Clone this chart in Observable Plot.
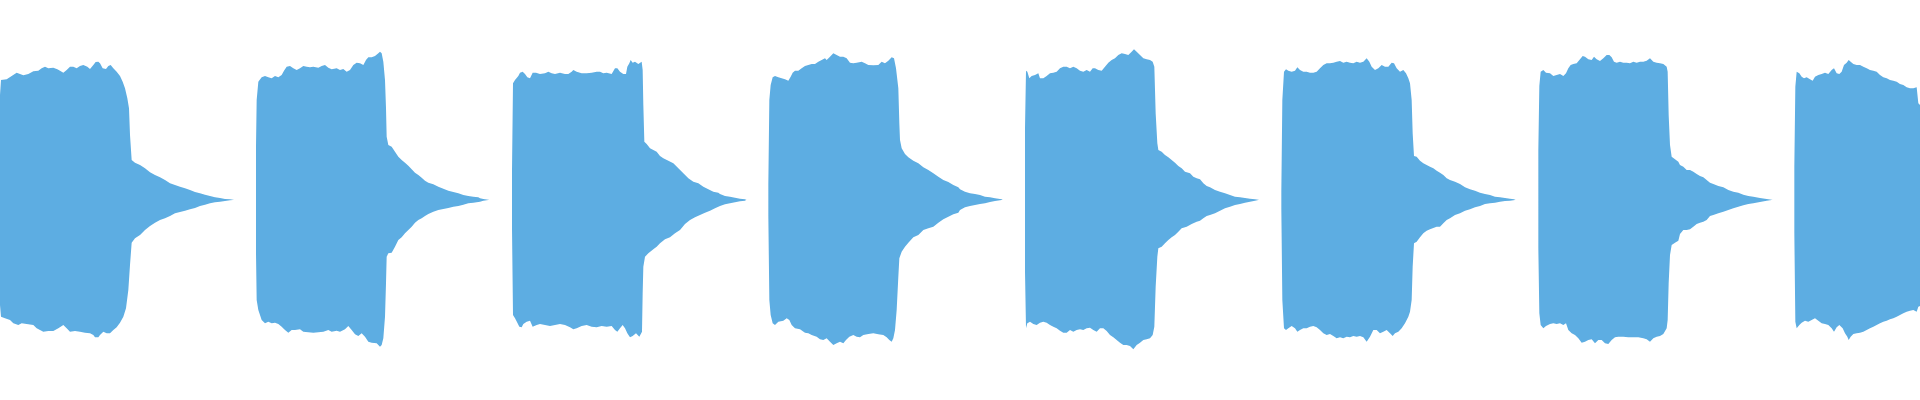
<!DOCTYPE html>
<html><head><meta charset="utf-8">
<script src="https://cdn.jsdelivr.net/npm/d3@7"></script>
<script src="https://cdn.jsdelivr.net/npm/@observablehq/plot@0.6"></script>
<style>html,body{margin:0;padding:0;background:#fff;overflow:hidden;} #chart svg{display:block;}</style>
</head><body><div id="chart"></div>
<script>
// Waveform peak envelope per burst: [time (ms), peak level (1/600 of full scale)]
const burst1Upper = [[0,315],[3,360],[20,362],[35,372],[50,382],[60,378],[70,374],[85,378],[100,386],[115,388],[125,395],[135,400],[145,395],[160,397],[172,392],[180,388],[190,382],[200,390],[210,400],[220,400],[230,395],[240,402],[250,405],[262,400],[270,393],[280,405],[287,414],[295,415],[300,410],[308,395],[318,393],[325,402],[332,405],[340,395],[350,385],[360,372],[368,355],[375,335],[382,305],[387,275],[390,195],[395,120],[405,112],[420,105],[435,95],[450,83],[465,75],[480,68],[495,60],[510,50],[525,45],[540,40],[555,35],[570,30],[585,24],[600,20],[615,16],[630,12],[645,8],[660,6],[675,3],[690,2],[699,1],[702,0]];
const burst1Lower = [[0,-315],[3,-350],[15,-355],[30,-360],[40,-370],[55,-375],[65,-370],[80,-372],[100,-375],[110,-385],[130,-395],[145,-393],[160,-393],[175,-385],[190,-375],[200,-385],[210,-395],[225,-393],[240,-395],[255,-398],[270,-400],[280,-405],[285,-412],[295,-412],[300,-405],[310,-395],[320,-400],[330,-400],[340,-390],[350,-382],[360,-368],[370,-350],[378,-325],[385,-270],[390,-195],[395,-128],[405,-115],[420,-105],[435,-90],[450,-78],[465,-68],[480,-60],[495,-55],[510,-48],[525,-40],[540,-36],[555,-32],[570,-28],[585,-24],[600,-18],[615,-14],[630,-10],[645,-7],[660,-5],[675,-3],[690,-1],[699,0]];
const burst2Upper = [[768,160],[770,300],[775,355],[785,368],[795,372],[805,368],[815,365],[825,372],[835,368],[845,375],[852,388],[860,400],[870,402],[880,395],[890,390],[900,395],[910,402],[920,400],[930,398],[940,400],[955,397],[965,402],[975,405],[985,397],[995,392],[1010,395],[1020,390],[1030,393],[1040,385],[1050,390],[1060,405],[1070,412],[1080,410],[1090,405],[1098,420],[1105,428],[1115,428],[1125,432],[1135,440],[1140,445],[1145,440],[1150,415],[1155,360],[1158,275],[1160,190],[1165,165],[1175,160],[1185,145],[1195,130],[1205,120],[1215,112],[1225,103],[1235,92],[1245,82],[1255,75],[1265,67],[1275,58],[1285,52],[1300,47],[1315,40],[1330,34],[1345,28],[1360,24],[1375,20],[1390,15],[1405,12],[1420,10],[1435,8],[1440,5],[1450,3],[1465,1],[1468,0]];
const burst2Lower = [[768,-160],[770,-300],[775,-330],[785,-360],[795,-370],[805,-365],[815,-370],[825,-368],[835,-372],[845,-380],[855,-390],[865,-398],[875,-390],[885,-390],[900,-388],[910,-395],[925,-397],[940,-398],[955,-397],[970,-395],[985,-390],[995,-395],[1010,-392],[1020,-395],[1035,-388],[1045,-378],[1055,-390],[1065,-403],[1075,-408],[1085,-400],[1095,-410],[1105,-425],[1115,-428],[1130,-430],[1140,-440],[1145,-435],[1150,-415],[1155,-350],[1158,-250],[1160,-170],[1165,-160],[1175,-158],[1185,-140],[1195,-120],[1205,-112],[1215,-100],[1225,-90],[1235,-80],[1245,-68],[1255,-60],[1265,-55],[1275,-48],[1285,-42],[1300,-35],[1315,-30],[1330,-27],[1345,-24],[1360,-20],[1375,-18],[1390,-14],[1405,-10],[1420,-8],[1440,-5],[1450,-2],[1465,0]];
const burst3Upper = [[1536,90],[1539,350],[1545,360],[1555,372],[1560,382],[1568,385],[1575,378],[1582,368],[1590,365],[1598,382],[1608,382],[1620,378],[1635,380],[1645,385],[1655,380],[1665,378],[1680,382],[1695,378],[1705,378],[1715,385],[1720,390],[1730,385],[1745,380],[1760,380],[1775,382],[1790,385],[1800,385],[1810,380],[1820,382],[1835,378],[1845,395],[1852,395],[1860,385],[1870,378],[1878,378],[1882,400],[1888,410],[1892,420],[1898,412],[1905,415],[1915,408],[1925,415],[1928,390],[1930,285],[1933,175],[1940,168],[1950,155],[1960,150],[1970,145],[1980,132],[1990,125],[2005,118],[2020,110],[2035,95],[2050,80],[2065,65],[2080,55],[2095,50],[2110,40],[2125,32],[2140,25],[2155,22],[2160,18],[2175,12],[2190,10],[2205,7],[2220,4],[2235,2],[2238,1],[2240,0]];
const burst3Lower = [[1536,-85],[1539,-345],[1545,-355],[1552,-368],[1558,-380],[1565,-382],[1570,-372],[1580,-365],[1590,-362],[1598,-380],[1610,-375],[1620,-372],[1635,-375],[1650,-378],[1665,-375],[1680,-372],[1695,-375],[1710,-382],[1720,-388],[1730,-385],[1745,-378],[1760,-375],[1775,-380],[1790,-382],[1805,-378],[1820,-380],[1835,-378],[1845,-390],[1852,-395],[1860,-385],[1868,-375],[1875,-385],[1882,-400],[1890,-412],[1898,-408],[1908,-400],[1918,-410],[1926,-395],[1928,-280],[1930,-200],[1935,-170],[1945,-160],[1960,-148],[1970,-140],[1980,-130],[1995,-118],[2010,-112],[2025,-100],[2040,-90],[2055,-72],[2070,-60],[2085,-52],[2100,-45],[2115,-38],[2130,-32],[2145,-25],[2160,-18],[2175,-13],[2190,-10],[2205,-7],[2220,-4],[2235,-2],[2238,0]];
const burst4Upper = [[2305,48],[2308,300],[2312,345],[2318,368],[2325,372],[2335,368],[2345,365],[2355,362],[2365,358],[2372,370],[2378,382],[2385,388],[2395,388],[2405,395],[2415,402],[2425,405],[2435,408],[2445,408],[2455,415],[2465,420],[2475,425],[2480,420],[2490,430],[2500,440],[2510,435],[2520,430],[2530,430],[2540,425],[2550,412],[2560,410],[2570,412],[2585,415],[2595,410],[2605,405],[2620,404],[2635,405],[2645,415],[2655,410],[2665,418],[2675,428],[2682,425],[2688,395],[2695,335],[2698,230],[2700,180],[2705,155],[2715,138],[2725,128],[2740,118],[2755,110],[2770,98],[2785,90],[2800,80],[2815,70],[2830,60],[2845,54],[2860,45],[2875,38],[2880,32],[2895,25],[2910,20],[2925,18],[2940,15],[2955,10],[2970,8],[2985,5],[3000,3],[3005,2],[3008,0]];
const burst4Lower = [[2305,-48],[2308,-300],[2312,-345],[2318,-370],[2325,-375],[2335,-365],[2350,-362],[2360,-355],[2368,-360],[2375,-375],[2385,-385],[2400,-388],[2415,-398],[2425,-400],[2435,-405],[2450,-410],[2460,-418],[2470,-420],[2480,-415],[2490,-425],[2500,-435],[2510,-430],[2520,-425],[2530,-430],[2538,-420],[2548,-410],[2560,-405],[2570,-410],[2580,-412],[2590,-405],[2605,-402],[2620,-400],[2635,-403],[2650,-405],[2660,-412],[2668,-420],[2675,-425],[2680,-415],[2685,-390],[2690,-330],[2695,-230],[2698,-175],[2705,-155],[2715,-140],[2725,-128],[2740,-112],[2755,-105],[2770,-90],[2785,-85],[2800,-80],[2815,-68],[2830,-58],[2845,-50],[2860,-43],[2875,-38],[2880,-30],[2895,-22],[2910,-18],[2925,-15],[2940,-12],[2955,-10],[2970,-6],[2985,-3],[3000,-1],[3005,0]];
const burst5Upper = [[3075,215],[3078,388],[3082,385],[3088,365],[3095,372],[3105,375],[3115,380],[3120,365],[3130,365],[3140,372],[3150,380],[3160,382],[3170,385],[3180,395],[3190,400],[3200,400],[3210,395],[3220,400],[3230,395],[3240,388],[3250,385],[3260,390],[3270,385],[3278,395],[3285,395],[3295,390],[3305,388],[3315,400],[3325,412],[3335,420],[3345,425],[3355,435],[3365,440],[3375,438],[3385,435],[3395,445],[3402,452],[3410,445],[3420,435],[3430,425],[3440,422],[3450,420],[3458,415],[3463,400],[3467,260],[3472,170],[3475,150],[3485,145],[3495,135],[3505,128],[3515,120],[3525,112],[3535,102],[3545,95],[3555,85],[3570,80],[3580,70],[3590,65],[3600,62],[3610,50],[3620,42],[3630,38],[3645,30],[3660,25],[3675,20],[3690,15],[3705,10],[3720,8],[3735,6],[3750,4],[3765,2],[3775,1],[3777,0]];
const burst5Lower = [[3075,-215],[3078,-385],[3082,-370],[3090,-365],[3100,-372],[3110,-375],[3120,-368],[3130,-365],[3140,-368],[3150,-375],[3160,-380],[3170,-385],[3180,-392],[3190,-398],[3200,-398],[3210,-390],[3220,-395],[3230,-390],[3240,-388],[3250,-390],[3260,-385],[3270,-383],[3280,-390],[3290,-395],[3300,-385],[3310,-385],[3320,-393],[3330,-405],[3340,-412],[3350,-420],[3360,-428],[3370,-435],[3380,-435],[3390,-438],[3400,-448],[3410,-435],[3420,-428],[3430,-420],[3440,-418],[3450,-415],[3458,-405],[3463,-380],[3467,-260],[3472,-170],[3475,-145],[3485,-140],[3495,-130],[3505,-120],[3515,-112],[3525,-105],[3535,-95],[3545,-85],[3560,-80],[3575,-72],[3590,-65],[3600,-62],[3610,-55],[3620,-48],[3630,-45],[3645,-40],[3660,-32],[3675,-25],[3690,-20],[3705,-15],[3720,-12],[3735,-8],[3750,-5],[3765,-2],[3775,0]];
const burst6Upper = [[3844,28],[3847,300],[3852,385],[3858,392],[3865,388],[3875,385],[3885,388],[3892,398],[3900,390],[3910,385],[3920,385],[3930,382],[3940,382],[3950,385],[3960,395],[3970,405],[3980,410],[3990,410],[4000,412],[4010,415],[4020,417],[4030,412],[4040,415],[4050,412],[4060,410],[4070,415],[4080,412],[4090,415],[4100,425],[4108,415],[4115,400],[4125,390],[4135,395],[4145,405],[4155,400],[4165,400],[4175,412],[4182,410],[4190,395],[4200,385],[4210,390],[4218,380],[4225,365],[4230,350],[4235,300],[4238,200],[4242,132],[4250,130],[4260,118],[4270,110],[4280,105],[4290,100],[4300,95],[4310,88],[4320,82],[4330,75],[4340,65],[4350,60],[4365,55],[4380,48],[4395,38],[4410,32],[4425,28],[4440,22],[4455,18],[4470,15],[4485,10],[4500,8],[4515,6],[4530,4],[4542,2],[4545,1],[4547,0]];
const burst6Lower = [[3844,-28],[3847,-300],[3852,-385],[3858,-390],[3865,-385],[3875,-378],[3885,-385],[3892,-395],[3900,-390],[3910,-385],[3920,-385],[3930,-380],[3940,-378],[3950,-382],[3960,-390],[3970,-400],[3980,-405],[3990,-402],[4000,-408],[4010,-415],[4020,-412],[4030,-415],[4040,-410],[4050,-412],[4060,-408],[4070,-410],[4080,-408],[4090,-412],[4100,-425],[4110,-410],[4120,-390],[4130,-390],[4140,-400],[4150,-395],[4160,-390],[4170,-400],[4178,-408],[4185,-400],[4195,-395],[4205,-385],[4215,-370],[4225,-350],[4230,-335],[4235,-300],[4238,-200],[4242,-130],[4250,-125],[4260,-112],[4270,-100],[4280,-92],[4290,-88],[4300,-84],[4310,-80],[4320,-80],[4330,-70],[4340,-60],[4350,-55],[4365,-45],[4380,-40],[4395,-32],[4410,-28],[4425,-22],[4440,-18],[4455,-12],[4470,-10],[4485,-8],[4500,-5],[4515,-3],[4530,-2],[4545,0]];
const burst7Upper = [[4615,150],[4618,342],[4622,385],[4630,390],[4638,382],[4650,380],[4660,372],[4670,375],[4680,378],[4690,372],[4698,380],[4705,395],[4712,405],[4720,408],[4730,410],[4740,422],[4748,432],[4755,430],[4765,422],[4775,420],[4782,430],[4790,422],[4800,417],[4810,425],[4820,435],[4828,435],[4835,428],[4842,415],[4850,412],[4860,415],[4870,412],[4880,412],[4890,410],[4900,415],[4910,412],[4920,415],[4930,415],[4940,418],[4950,425],[4960,415],[4970,412],[4980,410],[4990,408],[5000,400],[5003,385],[5006,255],[5010,165],[5015,130],[5025,122],[5035,115],[5040,105],[5050,100],[5060,90],[5070,90],[5080,85],[5090,78],[5100,72],[5110,68],[5120,60],[5130,52],[5140,48],[5155,42],[5170,38],[5185,30],[5200,25],[5215,22],[5230,16],[5245,12],[5260,10],[5280,6],[5300,3],[5315,1],[5318,0]];
const burst7Lower = [[4615,-145],[4618,-340],[4622,-375],[4630,-385],[4638,-378],[4650,-372],[4660,-370],[4670,-372],[4680,-370],[4690,-375],[4698,-370],[4705,-390],[4715,-400],[4725,-405],[4735,-415],[4745,-428],[4755,-425],[4765,-420],[4775,-418],[4785,-430],[4795,-420],[4805,-420],[4815,-430],[4825,-432],[4835,-420],[4845,-412],[4855,-410],[4870,-410],[4885,-412],[4900,-412],[4915,-412],[4930,-415],[4940,-418],[4950,-425],[4960,-415],[4970,-410],[4980,-408],[4990,-402],[5000,-385],[5003,-360],[5006,-250],[5010,-165],[5015,-135],[5025,-128],[5035,-122],[5040,-102],[5050,-90],[5060,-90],[5070,-88],[5080,-80],[5090,-72],[5100,-68],[5110,-65],[5120,-60],[5130,-48],[5140,-45],[5155,-40],[5170,-35],[5185,-30],[5200,-25],[5215,-20],[5230,-16],[5245,-12],[5260,-10],[5280,-6],[5300,-2],[5315,0]];
const burst8Upper = [[5383,102],[5386,340],[5390,385],[5398,380],[5405,370],[5412,365],[5420,368],[5430,362],[5438,358],[5445,370],[5455,375],[5465,378],[5475,382],[5485,378],[5495,390],[5502,395],[5510,380],[5518,378],[5525,385],[5532,405],[5540,412],[5546,420],[5552,415],[5560,408],[5570,405],[5580,405],[5590,400],[5600,395],[5610,390],[5620,388],[5630,385],[5640,375],[5650,368],[5660,365],[5670,360],[5680,358],[5690,355],[5700,348],[5710,345],[5720,338],[5730,335],[5740,335],[5750,338],[5755,290],[5760,285]];
const burst8Lower = [[5383,-100],[5386,-365],[5390,-385],[5398,-375],[5405,-368],[5415,-362],[5425,-365],[5435,-360],[5445,-355],[5455,-362],[5465,-370],[5475,-372],[5485,-375],[5495,-385],[5502,-395],[5510,-382],[5518,-375],[5528,-385],[5535,-400],[5542,-410],[5546,-420],[5552,-410],[5560,-402],[5570,-400],[5580,-398],[5590,-395],[5600,-390],[5610,-385],[5620,-380],[5630,-375],[5640,-370],[5650,-365],[5660,-362],[5670,-358],[5680,-355],[5690,-350],[5700,-345],[5710,-340],[5720,-335],[5730,-332],[5740,-330],[5750,-335],[5755,-320],[5760,-318]];

const timeDomain = [0, 5760];
const levelDomain = [-600, 600];
const waveColor = "#5DADE2";

const upperEnvelopes = [burst1Upper, burst2Upper, burst3Upper, burst4Upper, burst5Upper, burst6Upper, burst7Upper, burst8Upper];
const lowerEnvelopes = [burst1Lower, burst2Lower, burst3Lower, burst4Lower, burst5Lower, burst6Lower, burst7Lower, burst8Lower];
const toRows = (list) => list.flatMap((env, i) => env.map(([t, v]) => ({t, v, burst: i})));
const upperRows = toRows(upperEnvelopes);
const lowerRows = toRows(lowerEnvelopes);

const chart = Plot.plot({
  width: 1920,
  height: 400,
  margin: 0,
  x: {domain: timeDomain, axis: null},
  y: {domain: levelDomain, axis: null},
  marks: [
    Plot.areaY(upperRows, {x: "t", y1: 0, y2: "v", z: "burst", fill: waveColor}),
    Plot.areaY(lowerRows, {x: "t", y1: 0, y2: "v", z: "burst", fill: waveColor})
  ]
});
document.getElementById("chart").appendChild(chart);
</script>
</body></html>
